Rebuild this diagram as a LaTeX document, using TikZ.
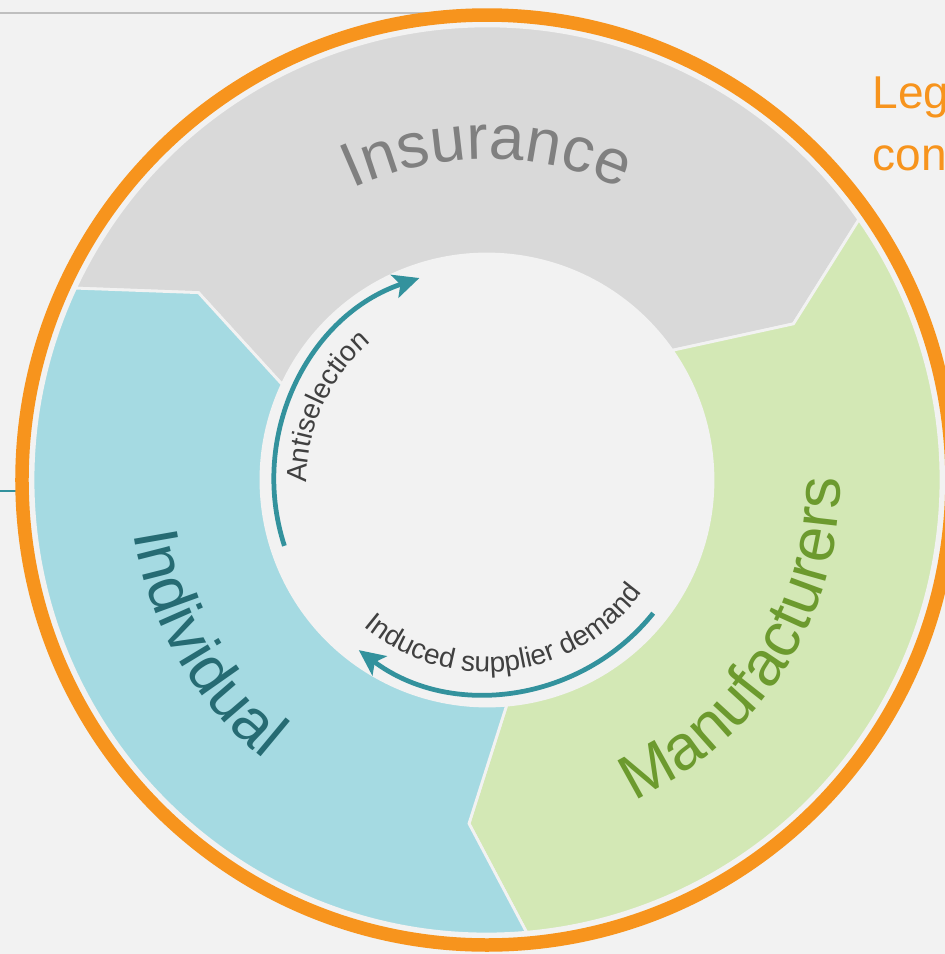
\documentclass[tikz,border=0pt]{standalone}
\usepackage{fontspec}
\setmainfont{Liberation Sans}
\usetikzlibrary{arrows.meta,decorations.text,positioning}

\definecolor{cor_fundo}{HTML}{F2F2F2}
\definecolor{cor_cinza}{HTML}{D9D9D9}
\definecolor{cor_azul}{HTML}{A5DAE2}
\definecolor{cor_verde}{HTML}{D3E8B5}
\definecolor{cor_laranja}{HTML}{F7941D}
\definecolor{cor_seta}{HTML}{33929D}
\definecolor{txt_cinza}{HTML}{808080}
\definecolor{txt_azul}{HTML}{266B73}
\definecolor{txt_verde}{HTML}{6C9A2E}
\definecolor{txt_escuro}{HTML}{404040}
\definecolor{linha_topo}{HTML}{BFBFBF}

\newcommand{\fonteGrande}{\fontsize{18}{22}\selectfont}
\newcommand{\fontePequena}{\fontsize{8}{9.6}\selectfont}

\begin{document}
\begin{tikzpicture}
        \tikzset{
            seg/.style={
                fill=#1,
                draw=cor_fundo,
                line width=0.8pt
            },
            seta/.style={
                draw=cor_seta,
                line width=1.35pt,
                -{Stealth[length=2.6mm, width=2.4mm, inset=0.6mm]}
            },
            arco/.style={
                decorate,
                decoration={text along path, text align=center, text color=#1}
            }
        }
        \fill[cor_fundo] (-4.87,-4.74) rectangle (4.58,4.80);
        \useasboundingbox (-4.87,-4.74) rectangle (4.58,4.80);

        %linhas de fora
        \draw[linha_topo, line width=0.6pt] (-4.87,4.67) -- (-0.6,4.67);
        \draw[cor_seta, line width=0.6pt] (-4.87,-0.11) -- (-4.7,-0.11);

        %anel
        \draw[cor_laranja, line width=0.135cm] (0,0) circle (4.65);

        %segmentos
        %Insurance
        \filldraw[seg=cor_cinza] (155:4.54) arc[start angle=155, end angle=35, radius=4.54] -- (27:3.44) -- (35:2.26) arc[start angle=35, end angle=155, radius=2.26] -- (147:3.44) -- cycle;
        %Manufacturers
        \filldraw[seg=cor_verde] (35:4.54) arc[start angle=35, end angle=-85, radius=4.54] -- (-93:3.44) -- (-85:2.26) arc[start angle=-85, end angle=35, radius=2.26] -- (27:3.44) -- cycle;
        %Individual
        \filldraw[seg=cor_azul] (275:4.54) arc[start angle=275, end angle=155, radius=4.54] -- (147:3.44) -- (155:2.26) arc[start angle=155, end angle=275, radius=2.26] -- (267:3.44) -- cycle;

        %setas
        \draw[seta] (198:2.13) arc[start angle=198, end angle=108.5, radius=2.13];
        \draw[seta] (-38.7:2.13) arc[start angle=-38.7, end angle=-127, radius=2.13];

        %textos
        \path[arco=txt_cinza, decoration={text={|\fonteGrande|Insurance}}] (125:3.21) arc[start angle=125, end angle=55, radius=3.21];
        \path[arco=txt_azul, decoration={text={|\fonteGrande|Individual}}] (175:3.57) arc[start angle=175, end angle=245, radius=3.57];
        \path[arco=txt_verde, decoration={text={|\fonteGrande|Manufacturers}}] (-78:3.53) arc[start angle=-78, end angle=13, radius=3.53];
        \path[arco=txt_escuro, decoration={text={|\fontePequena|Antiselection}}] (190:1.80) arc[start angle=190, end angle=121, radius=1.80];
        \path[arco=txt_escuro, decoration={text={|\fontePequena|Induced supplier demand}}] (222:1.92) arc[start angle=222, end angle=332, radius=1.92];

        \node[anchor=base west, inner sep=0pt, text=cor_laranja, font=\fontsize{13.1}{15.7}\selectfont] (leg) at (3.85,3.72) {Leg};
        \node[anchor=base west, inner sep=0pt, text=cor_laranja, font=\fontsize{13.1}{15.7}\selectfont] (con) at ([yshift=-0.62cm]leg.base west) {con};

    \end{tikzpicture}
\end{document}
